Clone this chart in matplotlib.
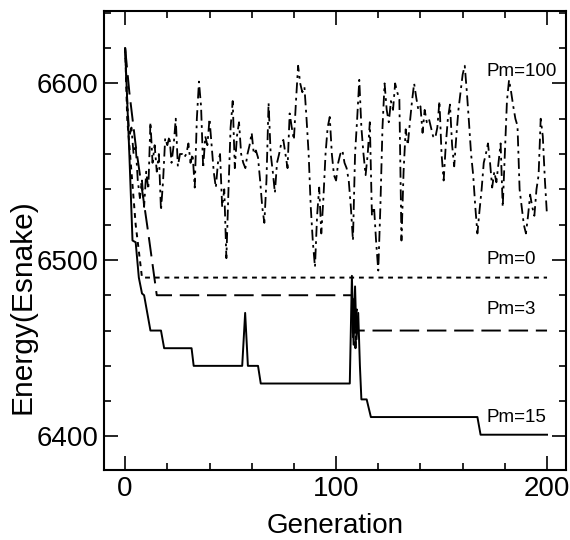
import numpy as np
import matplotlib
matplotlib.use('Agg')
import matplotlib.pyplot as plt
from matplotlib.ticker import MultipleLocator

plt.rcParams['font.family'] = ['Liberation Sans', 'DejaVu Sans']

# Pm=100 : one value per generation 0..200
pm100 = [6620, 6590, 6570, 6575, 6560, 6565, 6545, 6535, 6545, 6530,
         6550, 6540, 6578, 6555, 6565, 6550, 6560, 6528, 6545, 6569,
         6565, 6570, 6555, 6565, 6580, 6553, 6560, 6560, 6558, 6560,
         6566, 6555, 6560, 6541, 6580, 6601, 6587, 6552, 6570, 6565,
         6580, 6565, 6550, 6541, 6555, 6560, 6530, 6540, 6501, 6540,
         6575, 6590, 6552, 6570, 6578, 6560, 6555, 6552, 6560, 6565,
         6572, 6560, 6562, 6558, 6545, 6530, 6521, 6545, 6589, 6560,
         6550, 6538, 6555, 6560, 6566, 6568, 6560, 6552, 6583, 6575,
         6568, 6590, 6610, 6600, 6595, 6598, 6580, 6560, 6530, 6510,
         6496, 6525, 6541, 6515, 6535, 6560, 6575, 6581, 6560, 6548,
         6545, 6555, 6560, 6562, 6555, 6552, 6545, 6530, 6511, 6560,
         6580, 6602, 6575, 6560, 6548, 6560, 6578, 6525, 6530, 6510,
         6494, 6530, 6575, 6600, 6585, 6578, 6590, 6585, 6600, 6595,
         6591, 6511, 6550, 6574, 6565, 6578, 6590, 6600, 6592, 6585,
         6587, 6572, 6585, 6578, 6580, 6575, 6570, 6569, 6575, 6590,
         6560, 6545, 6565, 6580, 6588, 6565, 6553, 6570, 6585, 6595,
         6605, 6610, 6595, 6578, 6560, 6548, 6530, 6515, 6528, 6540,
         6555, 6560, 6566, 6555, 6541, 6550, 6544, 6555, 6566, 6530,
         6560, 6590, 6602, 6595, 6587, 6580, 6576, 6540, 6530, 6520,
         6515, 6525, 6537, 6530, 6525, 6540, 6548, 6580, 6570, 6545,
         6525]
gen100 = np.arange(len(pm100))

# Pm=0
gen0 = [0, 1, 3, 5, 7, 8, 200]
pm0 = [6620, 6580, 6550, 6520, 6500, 6490, 6490]

# Pm=3
gen3 = [0, 2, 5, 8, 11, 15, 107.5, 108, 108.6, 109.2, 109.8, 110.3, 200]
pm3 = [6620, 6595, 6565, 6540, 6515, 6480, 6480, 6455, 6478, 6450, 6472, 6460, 6460]

# Pm=15
gen15 = [0, 2, 3.5, 5, 6.5, 8, 9, 12, 17, 18.5, 31.5, 32.5, 55.5, 56.9, 58.2,
         63, 64.3, 106.5, 107.5, 108.3, 109, 109.7, 110.5, 111.3, 112, 114.5,
         116.5, 167, 168.5, 200]
pm15 = [6620, 6560, 6511, 6510, 6490, 6481, 6480, 6460, 6460, 6450, 6450, 6440,
        6440, 6470, 6440, 6440, 6430, 6430, 6491, 6452, 6485, 6455, 6470, 6440,
        6421, 6421, 6411, 6411, 6401, 6401]

labels = ['Pm=100', 'Pm=0', 'Pm=3', 'Pm=15']
label_y = [6607, 6500, 6472, 6411]

fig = plt.figure(figsize=(5.7, 5.4), dpi=100)
ax = fig.add_axes([0.1825, 0.1296, 0.8105, 0.85])

ax.plot(gen100, pm100, color='black', lw=1.3, linestyle=(0, (6, 2.5, 1.5, 2.5)))
ax.plot(gen0, pm0, color='black', lw=1.4, linestyle=(0, (2.5, 2.5)))
ax.plot(gen3, pm3, color='black', lw=1.4, linestyle=(0, (10, 4)))
ax.plot(gen15, pm15, color='black', lw=1.4)

for lab, y in zip(labels, label_y):
    ax.text(171.5, y, lab, fontsize=13.5, va='center', ha='left')

ax.set_xlim(-10, 209)
ax.set_ylim(6381, 6641)
ax.xaxis.set_major_locator(MultipleLocator(100))
ax.xaxis.set_minor_locator(MultipleLocator(20))
ax.yaxis.set_major_locator(MultipleLocator(100))
ax.yaxis.set_minor_locator(MultipleLocator(20))
ax.tick_params(which='both', direction='in', top=True, right=True, width=1.2)
ax.tick_params(which='major', length=10, labelsize=20, pad=4)
ax.tick_params(which='minor', length=5)
for s in ax.spines.values():
    s.set_linewidth(1.5)

ax.set_xlabel('Generation', fontsize=20, labelpad=8)
ax.set_ylabel('Energy(Esnake)', fontsize=21.5)
ax.yaxis.set_label_coords(-0.147, 0.357)

fig.savefig('out.png', dpi=100)
